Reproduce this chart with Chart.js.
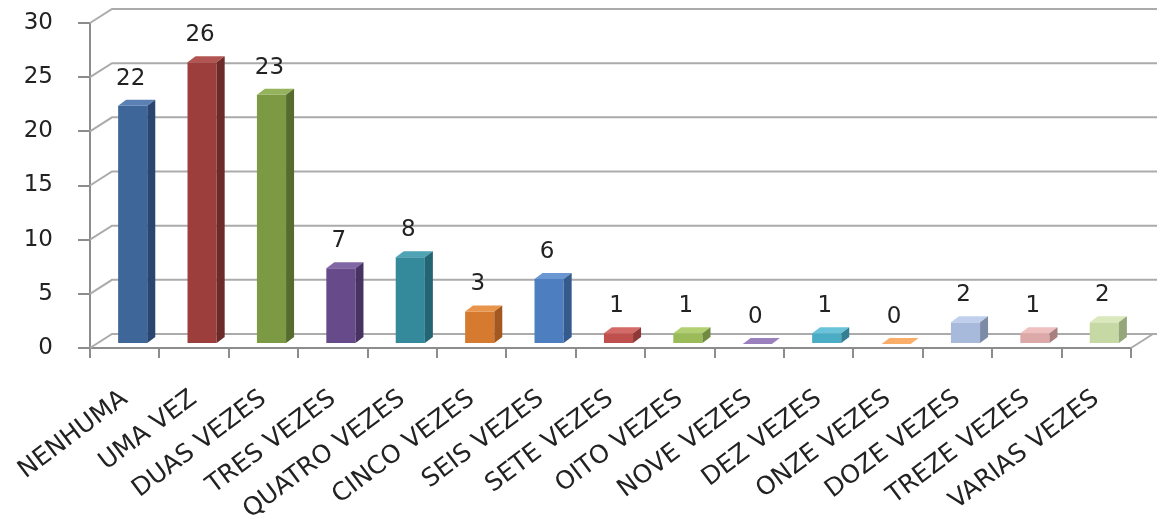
<!DOCTYPE html>
<html lang="pt">
<head>
    <meta charset="UTF-8">
    <title>Vezes</title>
    <script src="https://cdn.jsdelivr.net/npm/chart.js"></script>
    <style>
        html, body {
            margin: 0;
            padding: 0;
            background: #fff;
        }
        #chartContainer {
            width: 1157px;
            height: 515px;
        }
    </style>
</head>
<body>
    <div id="chartContainer">
        <canvas id="chartCanvas"></canvas>
    </div>

    <script>
        // dados
        const categories = ["NENHUMA", "UMA VEZ", "DUAS VEZES", "TRES VEZES", "QUATRO VEZES", "CINCO VEZES",
            "SEIS VEZES", "SETE VEZES", "OITO VEZES", "NOVE VEZES", "DEZ VEZES", "ONZE VEZES",
            "DOZE VEZES", "TREZE VEZES", "VARIAS VEZES"];
        const values = [22, 26, 23, 7, 8, 3, 6, 1, 1, 0, 1, 0, 2, 1, 2];
        const yTicks = [0, 5, 10, 15, 20, 25, 30];

        // cores: frente, lado, topo
        const frontColors = ["#3F6699", "#9C3E3B", "#7C9A43", "#664A8A", "#34899B", "#D57A2E", "#4D7EC0",
            "#C0504D", "#9BBB59", "#8064A2", "#4BACC6", "#F79646", "#A8BADB", "#DCA9A8", "#C6D8A3"];
        const sideColors = ["#2A4670", "#6C2A28", "#566C2E", "#473363", "#236573", "#A2581E", "#355A8E",
            "#8E3937", "#708A3F", "#5D4878", "#357F93", "#BD6F32", "#7C8BA6", "#A87F7E", "#95A67A"];
        const topColors = ["#5A80B4", "#B25552", "#95B25C", "#8066A4", "#4EA3B5", "#E8944A", "#6A96D2",
            "#D46A67", "#B2D071", "#9A80BC", "#6BC3DA", "#FBAE6A", "#C0D0EC", "#EEC0BF", "#DAE8BD"];

        const DX = 22, DY = 14;     // profundidade da parede
        const BX = 8, BY = 4;       // deslocamento das barras
        const SX = 8, SY = 6;       // profundidade das barras

        const font = "'DejaVu Sans', Verdana, sans-serif";

        const box3d = {
            id: "box3d",
            beforeDatasetsDraw(chart) {
                const { ctx, chartArea, scales } = chart;
                const y = scales.y;
                ctx.save();
                ctx.strokeStyle = "#ABABAB";
                ctx.lineWidth = 2;
                yTicks.forEach(v => {
                    const py = y.getPixelForValue(v);
                    ctx.beginPath();
                    ctx.moveTo(chartArea.left, py);
                    ctx.lineTo(chartArea.left + DX, py - DY);
                    ctx.lineTo(chartArea.right + DX + 4, py - DY);
                    ctx.stroke();
                });
                // canto direito do chao
                ctx.beginPath();
                ctx.moveTo(chartArea.right, chartArea.bottom);
                ctx.lineTo(chartArea.right + DX, chartArea.bottom - DY);
                ctx.stroke();
                ctx.restore();

                ctx.save();
                ctx.translate(BX, -BY);
            },
            afterDatasetsDraw(chart) {
                const { ctx } = chart;
                const meta = chart.getDatasetMeta(0);
                meta.data.forEach((bar, i) => {
                    const l = bar.x - bar.width / 2;
                    const r = bar.x + bar.width / 2;
                    // topo
                    ctx.fillStyle = topColors[i];
                    ctx.beginPath();
                    ctx.moveTo(l, bar.y);
                    ctx.lineTo(r, bar.y);
                    ctx.lineTo(r + SX, bar.y - SY);
                    ctx.lineTo(l + SX, bar.y - SY);
                    ctx.closePath();
                    ctx.fill();
                    // lado
                    if (bar.base - bar.y > 0.5) {
                        ctx.fillStyle = sideColors[i];
                        ctx.beginPath();
                        ctx.moveTo(r, bar.y);
                        ctx.lineTo(r + SX, bar.y - SY);
                        ctx.lineTo(r + SX, bar.base - SY);
                        ctx.lineTo(r, bar.base);
                        ctx.closePath();
                        ctx.fill();
                    }
                    // rotulo
                    ctx.fillStyle = "#222";
                    ctx.font = "23px " + font;
                    ctx.textAlign = "center";
                    ctx.textBaseline = "middle";
                    ctx.fillText(String(values[i]), bar.x - 2, bar.y - 27);
                });
                ctx.restore();
            }
        };

        const ctx = document.getElementById("chartCanvas").getContext("2d");
        new Chart(ctx, {
            type: "bar",
            data: {
                labels: categories,
                datasets: [{
                    data: values,
                    backgroundColor: frontColors,
                    borderWidth: 0,
                    categoryPercentage: 1,
                    barPercentage: 0.42
                }]
            },
            options: {
                responsive: true,
                maintainAspectRatio: false,
                animation: false,
                layout: { autoPadding: false, padding: { top: 23, right: 26, left: 0, bottom: 0 } },
                plugins: {
                    legend: { display: false },
                    tooltip: { enabled: false }
                },
                scales: {
                    x: {
                        offset: true,
                        grid: {
                            offset: true,
                            drawOnChartArea: false,
                            drawTicks: true,
                            tickLength: 10,
                            color: "#8C8C8C",
                            lineWidth: 2
                        },
                        border: { display: true, color: "#8C8C8C", width: 2 },
                        ticks: {
                            autoSkip: false,
                            minRotation: 37,
                            maxRotation: 37,
                            padding: 26,
                            color: "#222",
                            font: { family: font, size: 25 }
                        },
                        afterFit(scale) {
                            scale.height = 167;
                            scale.paddingLeft = 0;
                            scale.paddingRight = 0;
                        }
                    },
                    y: {
                        min: 0,
                        max: 30,
                        afterBuildTicks(scale) {
                            scale.ticks = yTicks.map(v => ({ value: v }));
                        },
                        grid: {
                            drawOnChartArea: false,
                            drawTicks: true,
                            tickLength: 12,
                            color: "#8C8C8C",
                            lineWidth: 2
                        },
                        border: { display: true, color: "#8C8C8C", width: 2 },
                        ticks: {
                            padding: 25,
                            color: "#222",
                            font: { family: font, size: 23 }
                        },
                        afterFit(scale) {
                            scale.width = 90;
                            scale.paddingTop = 0;
                            scale.paddingBottom = 0;
                        }
                    }
                }
            },
            plugins: [box3d]
        });
    </script>
</body>
</html>
